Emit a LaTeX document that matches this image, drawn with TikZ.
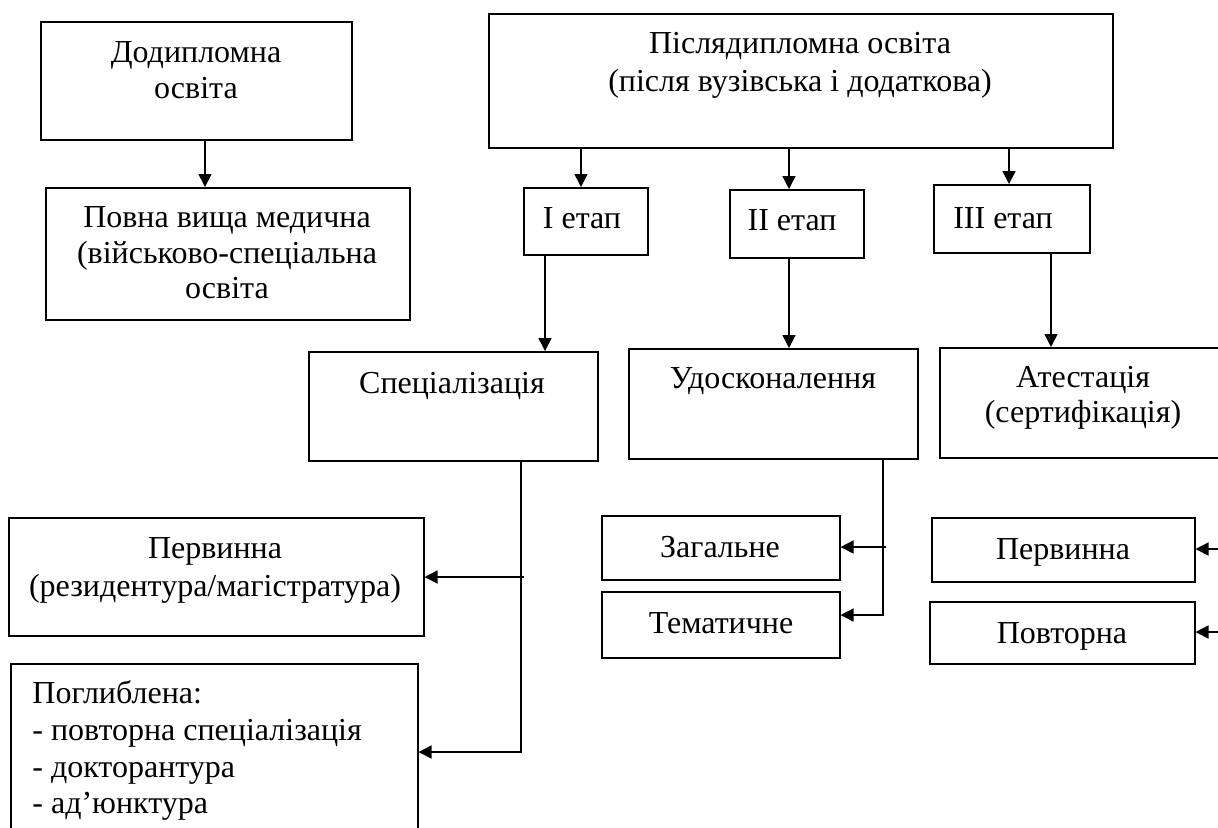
\documentclass[tikz,border=0pt]{standalone}
\usepackage{fontspec}
\setmainfont{Liberation Serif}
\usetikzlibrary{arrows.meta,calc}
\begin{document}
\begin{tikzpicture}[x=0.5pt,y=-0.5pt,
  box/.style={draw, line width=0.75pt, inner sep=0pt, anchor=north west},
  txt/.style={anchor=base, inner sep=0pt, font=\fontsize{16pt}{18pt}\selectfont},
  ltxt/.style={anchor=base west, inner sep=0pt, font=\fontsize{16pt}{18pt}\selectfont},
  arr/.style={line width=0.75pt, -{Triangle[length=6.5pt,width=6.5pt]}},
  ln/.style={line width=0.75pt}]
\useasboundingbox (0,0) rectangle (1218,827);
\clip (0,0) rectangle (1218,827);
% boxes
\node[box, minimum width=155.5pt, minimum height=59pt] (pre) at (40,21) {};
\node[box, minimum width=182pt, minimum height=66pt] (full) at (45,187) {};
\node[box, minimum width=312pt, minimum height=67pt] (post) at (488,13) {};
\node[box, minimum width=62pt, minimum height=33.5pt] (st1) at (523,187) {};
\node[box, minimum width=67pt, minimum height=34pt] (st2) at (729,189) {};
\node[box, minimum width=78pt, minimum height=34pt] (st3) at (933,184) {};
\node[box, minimum width=144.5pt, minimum height=54.5pt] (spec) at (308,351) {};
\node[box, minimum width=144.5pt, minimum height=55pt] (impr) at (628,348) {};
\node[box, minimum width=144.5pt, minimum height=55pt] (att) at (939,347) {};
\node[box, minimum width=207.5pt, minimum height=59pt] (prim) at (8,517) {};
\node[box, minimum width=203.5pt, minimum height=95pt] (deep) at (10,663) {};
\node[box, minimum width=119pt, minimum height=32pt] (gen) at (601,515) {};
\node[box, minimum width=119pt, minimum height=33pt] (them) at (601,591) {};
\node[box, minimum width=131.5pt, minimum height=32pt] (aprim) at (931,517) {};
\node[box, minimum width=132.5pt, minimum height=31pt] (arep) at (929,601) {};
% texts
\node[txt] (preA) at (196,62) {Додипломна};
\node[txt] (preB) at (196,98) {освіта};
\node[txt] (fullA) at (227,227) {Повна вища медична};
\node[txt] (fullB) at (227,263) {(військово-спеціальна};
\node[txt] (fullC) at (227,298) {освіта};
\node[txt] (postA) at (800,53) {Післядипломна освіта};
\node[txt] (postB) at (800,91) {(після вузівська і додаткова)};
\node[txt] (st1t) at (582,228) {I етап};
\node[txt] (st2t) at (792,230) {II етап};
\node[txt] (st3t) at (1003,228) {III етап};
\node[txt] (spect) at (452,393) {Спеціалізація};
\node[txt] (imprt) at (773,388) {Удосконалення};
\node[txt] (attA) at (1083,387) {Атестація};
\node[txt] (attB) at (1083,422) {(сертифікація)};
\node[txt] (primA) at (215,558) {Первинна};
\node[txt] (primB) at (215,596) {(резидентура/магістратура)};
\node[ltxt] (deepA) at (32,703) {Поглиблена:};
\node[ltxt] (deepB) at (32,740) {- повторна спеціалізація};
\node[ltxt] (deepC) at (32,777) {- докторантура};
\node[ltxt] (deepD) at (32,813) {- ад’юнктура};
\node[txt] (gent) at (720,557) {Загальне};
\node[txt] (themt) at (721,633) {Тематичне};
\node[txt] (aprimt) at (1063,559) {Первинна};
\node[txt] (arept) at (1062,643) {Повторна};
% connector positions
\coordinate (x0) at (205,0);
\coordinate (x1) at (581,0);
\coordinate (x2) at (789,0);
\coordinate (x3) at (1009,0);
\coordinate (x4) at (545,0);
\coordinate (x6) at (1051,0);
\coordinate (sb) at (521,752);
\coordinate (sp) at (524,577);
\coordinate (ib) at (883,615);
\coordinate (ip) at (886,547);
\coordinate (r1) at (1225,549);
\coordinate (r2) at (1225,632);
% connectors
\draw[arr] (pre.south -| x0) -- (full.north -| x0);
\draw[arr] (post.south -| x1) -- (st1.north -| x1);
\draw[arr] (post.south -| x2) -- (st2.north -| x2);
\draw[arr] (post.south -| x3) -- (st3.north -| x3);
\draw[arr] (st1.south -| x4) -- (spec.north -| x4);
\draw[arr] (st2.south -| x2) -- (impr.north -| x2);
\draw[arr] (st3.south -| x6) -- (att.north -| x6);
\draw[arr] (spec.south -| sb) -- (sb) -- (deep.east |- sb);
\draw[arr] (sp) -- (prim.east |- sp);
\draw[arr] (impr.south -| ib) -- (ib) -- (them.east |- ib);
\draw[arr] (ip) -- (gen.east |- ip);
\draw[arr] (r1) -- (aprim.east |- r1);
\draw[arr] (r2) -- (arep.east |- r2);
\end{tikzpicture}
\end{document}
